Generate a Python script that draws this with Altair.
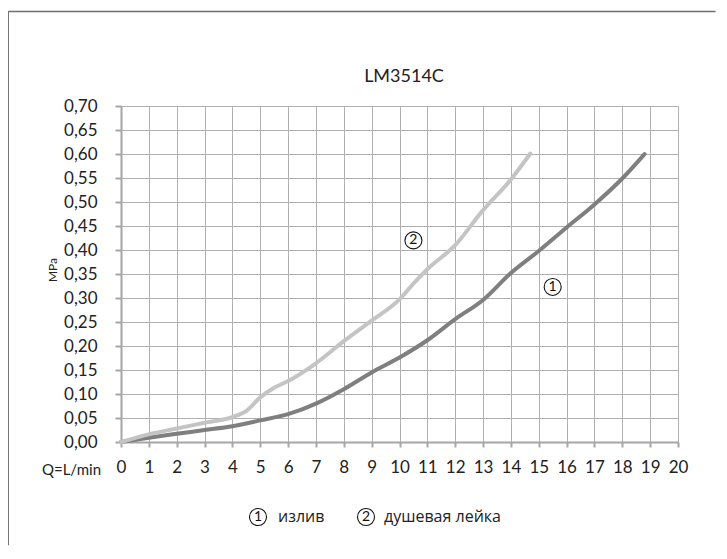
import altair as alt
import pandas as pd

# ---- data ----
q_outlet = [0, 1, 2, 3, 4, 5, 6, 7, 8, 9, 10, 11, 12, 13, 14, 15, 16, 17, 18, 18.8]
p_outlet = [0, 0.009, 0.017, 0.025, 0.033, 0.045, 0.058, 0.080, 0.110, 0.145,
            0.176, 0.212, 0.256, 0.296, 0.352, 0.398, 0.447, 0.495, 0.549, 0.600]

q_shower = [0, 1, 2, 3, 4, 4.5, 5, 5.5, 6, 7, 8, 9, 10, 10.5, 11, 12, 13, 14, 14.7]
p_shower = [0, 0.016, 0.028, 0.040, 0.052, 0.065, 0.093, 0.113, 0.127, 0.164,
            0.210, 0.253, 0.297, 0.330, 0.360, 0.410, 0.483, 0.547, 0.601]

x_ticks = list(range(0, 21))
y_ticks = [round(i * 0.05, 2) for i in range(15)]

title_text = "LM3514C"
y_title = "MPa"
x_title = "Q=L/min"
series_names = ["излив", "душевая лейка"]
series_colors = ["#7f7f7f", "#c4c4c4"]
marker_labels = ["1", "2"]
marker_q = [15.5, 10.5]
marker_p = [0.323, 0.42]

FONT = "Lato"
CYR = "Open Sans"
W, H = 557, 336

df_out = pd.DataFrame({"q": q_outlet, "p": p_outlet, "s": series_names[0]})
df_sh = pd.DataFrame({"q": q_shower, "p": p_shower, "s": series_names[1]})
df_mark = pd.DataFrame({"q": marker_q, "p": marker_p, "t": marker_labels})
one = pd.DataFrame({"a": [0]})

xs = alt.Scale(domain=[0, 20], nice=False, zero=False)
ys = alt.Scale(domain=[0, 0.7], nice=False)
cs = alt.Scale(domain=series_names, range=series_colors)

x_axis = alt.Axis(
    values=x_ticks, grid=True, gridColor="#b0b0b0", gridWidth=1,
    domainColor="#a6a6a6", domainWidth=2, tickColor="#a6a6a6", tickSize=5,
    tickWidth=2, labelFontSize=17, labelPadding=12, labelColor="#222222",
    labelFont=FONT, format="d", labelOverlap=False, labelFlush=False, title=None)
y_axis = alt.Axis(
    values=y_ticks, grid=True, gridColor="#b0b0b0", gridWidth=1,
    domainColor="#a6a6a6", domainWidth=2, tickColor="#a6a6a6", tickSize=6,
    tickWidth=2, labelFontSize=17, labelPadding=18, labelColor="#222222",
    labelFont=FONT, labelOverlap=False, labelFlush=False,
    labelExpr="replace(format(datum.value, '.2f'), '.', ',')",
    title=None)

x_enc = alt.X("q:Q", scale=xs, axis=x_axis)
y_enc = alt.Y("p:Q", scale=ys, axis=y_axis)

# outer frame (decoration): top and left edges only
frame_top = alt.Chart(one).mark_rule(stroke="#6e6e6e", strokeWidth=1.5).encode(
    x=alt.X(datum=-4.05, scale=xs, axis=x_axis), x2=alt.X2(datum=21.35),
    y=alt.Y(datum=0.897, scale=ys, axis=y_axis))
frame_left = alt.Chart(one).mark_rule(stroke="#6e6e6e", strokeWidth=1.5).encode(
    x=alt.X(datum=-4.05, scale=xs, axis=x_axis),
    y=alt.Y(datum=0.897, scale=ys, axis=y_axis), y2=alt.Y2(datum=-0.215))

line_out = alt.Chart(df_out).mark_line(strokeWidth=4, interpolate="monotone", strokeCap="round").encode(
    x=x_enc, y=y_enc, color=alt.Color("s:N", scale=cs, legend=None))
line_sh = alt.Chart(df_sh).mark_line(strokeWidth=4, interpolate="monotone", strokeCap="round").encode(
    x=x_enc, y=y_enc, color=alt.Color("s:N", scale=cs, legend=None))

circ = alt.Chart(df_mark).mark_point(shape="circle", filled=False, size=290, stroke="#111111",
                                     strokeWidth=1.1, opacity=1).encode(x=x_enc, y=y_enc)
circ_t = alt.Chart(df_mark).mark_text(fontSize=14, font=FONT, color="#111111", baseline="middle",
                                      align="center").encode(x=x_enc, y=y_enc, text="t:N")

title = alt.Chart(one).mark_text(text=title_text, fontSize=18, font=FONT, color="#222222",
                                 align="center", baseline="middle").encode(
    x=alt.value(283), y=alt.value(-29))
ytitle = alt.Chart(one).mark_text(text=y_title, fontSize=12, font=FONT, color="#222222",
                                  align="center", baseline="middle", angle=270).encode(
    x=alt.value(-68), y=alt.value(164))
xtitle = alt.Chart(one).mark_text(text=x_title, fontSize=15, font=FONT, color="#222222",
                                  align="right", baseline="middle").encode(
    x=alt.value(-20), y=alt.value(364))

legend_layers = []
leg_y = 411
leg_circle_x = [137, 245]
leg_text_x = [157, 263]
for i in range(2):
    legend_layers.append(alt.Chart(one).mark_point(shape="circle", filled=False, size=290,
                                                   stroke="#111111", strokeWidth=1.1, opacity=1).encode(
        x=alt.value(leg_circle_x[i]), y=alt.value(leg_y)))
    legend_layers.append(alt.Chart(one).mark_text(text=marker_labels[i], fontSize=14, font=FONT,
                                                  color="#111111", align="center", baseline="middle").encode(
        x=alt.value(leg_circle_x[i]), y=alt.value(leg_y)))
    legend_layers.append(alt.Chart(one).mark_text(text=series_names[i], fontSize=16, font=CYR,
                                                  color="#222222", align="left", baseline="middle").encode(
        x=alt.value(leg_text_x[i]), y=alt.value(leg_y)))

chart = alt.layer(frame_top, frame_left, line_out, line_sh, circ, circ_t, title, ytitle, xtitle,
                  *legend_layers).properties(
    width=W, height=H,
    autosize=alt.AutoSizeParams(type="none"),
    padding={"left": 113, "top": 98, "right": 41, "bottom": 109},
    background="white",
).configure_view(stroke=None)

chart.save("out.html", embed_options={"renderer": "svg", "actions": False})
